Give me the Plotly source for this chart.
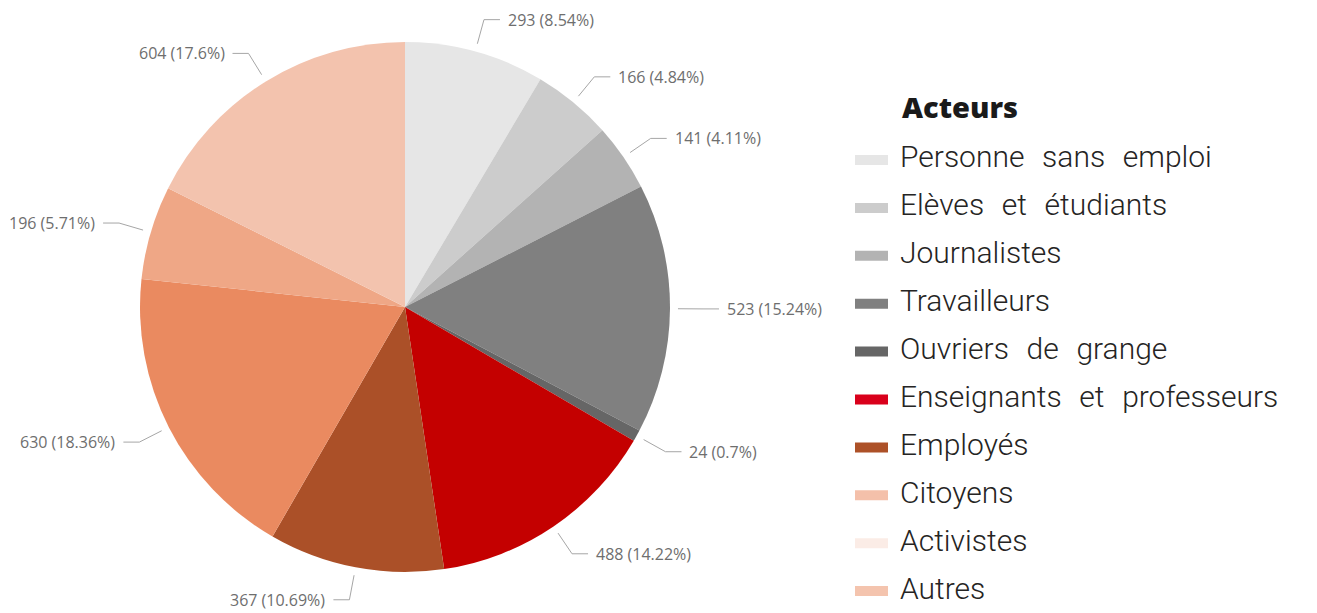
"""Pie chart of acteurs with outside labels and a side legend"""

import math
import plotly.graph_objects as go

W, H = 1317, 613

legend_title = "Acteurs"
categories = [
    "Personne sans emploi",
    "Elèves et étudiants",
    "Journalistes",
    "Travailleurs",
    "Ouvriers de grange",
    "Enseignants et professeurs",
    "Employés",
    "Citoyens",
    "Activistes",
    "Autres",
]
values = [293, 166, 141, 523, 24, 488, 367, 630, 196, 604]
slice_colors = ["#e6e6e6", "#cccccc", "#b3b3b3", "#808080", "#666666",
                "#c40000", "#ab5028", "#ea8a60", "#efa786", "#f3c3ae"]
legend_colors = ["#e6e6e6", "#cccccc", "#b3b3b3", "#808080", "#666666",
                 "#d9001b", "#ad5128", "#f4c0aa", "#fbece6", "#f4c4ae"]

# pie geometry in pixels
CX, CY, R = 405, 307, 265


def px_x(x):
    return x / W


def px_y(y):
    return 1 - y / H


fig = go.Figure(go.Pie(
    labels=categories,
    values=values,
    marker=dict(colors=slice_colors),
    sort=False,
    direction="clockwise",
    rotation=0,
    textinfo="none",
    showlegend=False,
    domain=dict(x=[px_x(CX - R), px_x(CX + R)], y=[px_y(CY + R), px_y(CY - R)]),
))

# outside labels with leader lines
total = sum(values)
cum = 0
for v in values:
    mid = (cum + v / 2) / total * 2 * math.pi
    cum += v
    s, c = math.sin(mid), math.cos(mid)
    x0, y0 = CX + (R + 8) * s, CY - (R + 8) * c
    x1, y1 = CX + (R + 33) * s, CY - (R + 33) * c
    side = 1 if s >= 0 else -1
    x2 = x1 + side * 16
    fig.add_shape(
        type="path",
        path=f"M {px_x(x0)},{px_y(y0)} L {px_x(x1)},{px_y(y1)} L {px_x(x2)},{px_y(y1)}",
        xref="paper", yref="paper",
        line=dict(color="#a6a6a6", width=1),
    )
    pct = round(100 * v / total, 2)
    fig.add_annotation(
        x=px_x(x2 + side * 6), y=px_y(y1), xref="paper", yref="paper",
        text=f"{v} ({pct:g}%)", showarrow=False,
        xanchor="left" if side > 0 else "right", yanchor="middle",
        font=dict(family="Open Sans", size=16, color="#6e6e6e"),
    )

# legend
fig.add_annotation(
    x=px_x(900), y=px_y(107), xref="paper", yref="paper",
    text=legend_title, showarrow=False, xanchor="left", yanchor="middle",
    font=dict(family="Open Sans", size=29, color="#1a1a1a", weight=800),
)
for i, (name, col) in enumerate(zip(categories, legend_colors)):
    yc = 157 + i * 47.9
    fig.add_shape(
        type="rect", xref="paper", yref="paper",
        x0=px_x(855), x1=px_x(888), y0=px_y(yc + 8), y1=px_y(yc - 2),
        fillcolor=col, line=dict(width=0),
    )
    fig.add_annotation(
        x=px_x(898), y=px_y(yc), xref="paper", yref="paper",
        text=name.replace(" ", "\u00a0\u00a0\u200a"), showarrow=False,
        xanchor="left", yanchor="middle",
        font=dict(family="Roboto", size=30, color="#252423", weight=300),
    )

fig.update_layout(
    width=W, height=H,
    margin=dict(l=0, r=0, t=0, b=0),
    paper_bgcolor="white",
    plot_bgcolor="white",
)

fig.write_html("out.html", config={"displayModeBar": False},
               post_script="document.body.style.margin='0';")
